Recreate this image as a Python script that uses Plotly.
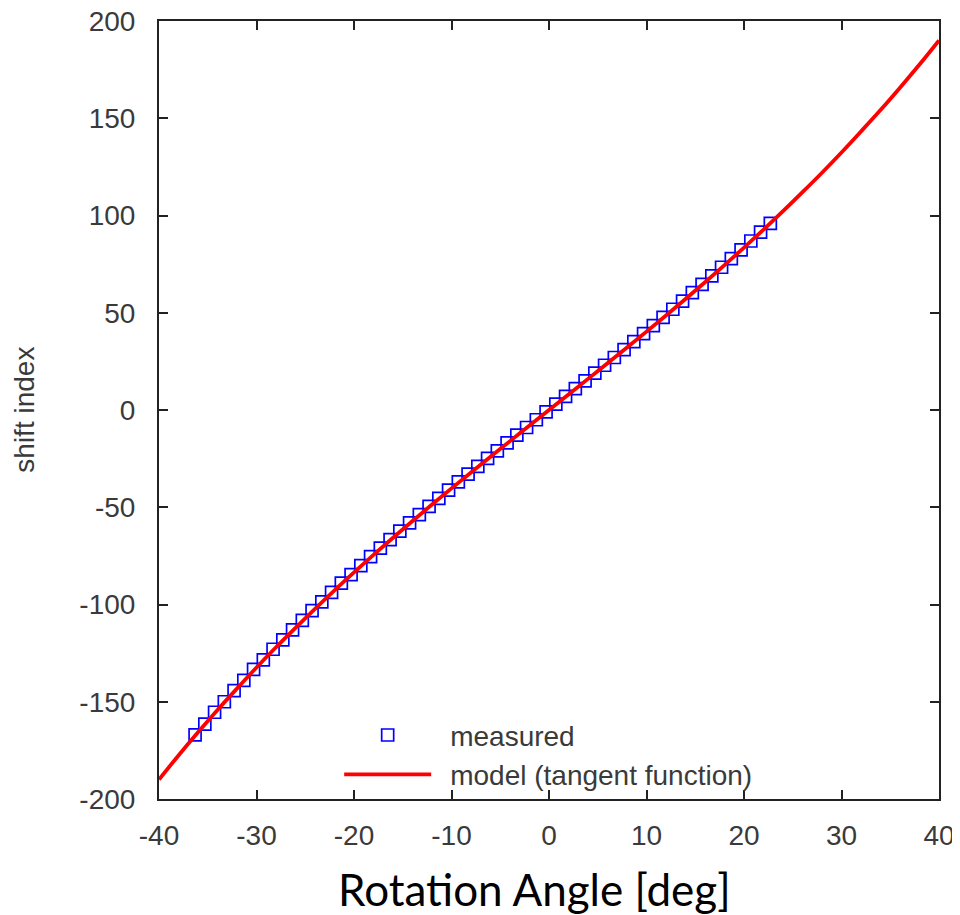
import plotly.graph_objects as go

meas_x = [-36.3, -35.3, -34.3, -33.3, -32.3, -31.3, -30.3, -29.3, -28.3, -27.3,
          -26.3, -25.3, -24.3, -23.3, -22.3, -21.3, -20.3, -19.3, -18.3, -17.3,
          -16.3, -15.3, -14.3, -13.3, -12.3, -11.3, -10.3, -9.3, -8.3, -7.3,
          -6.3, -5.3, -4.3, -3.3, -2.3, -1.3, -0.3, 0.7, 1.7, 2.7,
          3.7, 4.7, 5.7, 6.7, 7.7, 8.7, 9.7, 10.7, 11.7, 12.7,
          13.7, 14.7, 15.7, 16.7, 17.7, 18.7, 19.7, 20.7, 21.7, 22.7]
meas_y = [-167.0, -161.5, -155.4, -150.0, -144.3, -139.0, -133.4, -128.5, -123.0, -118.2,
          -113.0, -108.2, -103.2, -98.6, -93.8, -89.0, -84.6, -80.0, -75.4, -71.0,
          -66.6, -62.3, -58.0, -53.8, -49.5, -45.4, -41.2, -37.0, -33.0, -29.0,
          -24.9, -21.0, -16.9, -12.9, -9.0, -5.0, -1.0, 3.0, 7.0, 11.0,
          15.0, 19.0, 23.0, 27.0, 31.0, 35.2, 39.3, 43.4, 47.6, 51.8,
          56.0, 60.3, 64.6, 69.0, 73.4, 77.8, 82.3, 86.9, 91.5, 96.0]

# model (tangent function) curve
model_x = [-40, -38, -36, -34, -32, -30, -28, -26, -24, -22, -20, -18, -16, -14, -12, -10,
           -8, -6, -4, -2, 0, 2, 4, 6, 8, 10, 12, 14, 16, 18, 20, 22, 24, 26, 28, 30,
           32, 34, 36, 38, 40]
model_y = [-190.0, -177.6, -165.7, -154.2, -143.2, -132.4, -122.0, -112.0, -102.2, -92.7,
           -83.5, -74.5, -65.7, -57.1, -48.6, -40.3, -32.1, -24.0, -16.0, -8.0, 0.0,
           8.0, 16.0, 24.0, 32.1, 40.3, 48.6, 57.1, 65.7, 74.5, 83.5, 92.7, 102.2,
           112.0, 122.0, 132.4, 143.2, 154.2, 165.7, 177.6, 190.0]

x_ticks = [-40, -30, -20, -10, 0, 10, 20, 30, 40]
y_ticks = [-200, -150, -100, -50, 0, 50, 100, 150, 200]

series_names = ["measured", "model (tangent function)"]
x_title = "Rotation Angle [deg]"
y_title = "shift index"

SANS = "Liberation Sans, Arial, sans-serif"
GREY = "#3a3a3a"

fig = go.Figure()
fig.add_trace(go.Scatter(
    x=meas_x, y=meas_y, mode="markers", name="\u2002" + series_names[0],
    marker=dict(symbol="square-open", size=12, color="#0000FF",
                line=dict(width=1.7, color="#0000FF")),
))
fig.add_trace(go.Scatter(
    x=model_x, y=model_y, mode="lines", name="\u2002" + series_names[1],
    line=dict(color="#FF0000", width=3.8, shape="spline"),
))

tick_font = dict(family=SANS, size=28, color=GREY)

axis_common = dict(
    showgrid=False, zeroline=False, automargin=False,
    showline=True, linecolor="#222222", linewidth=2, mirror="allticks",
    ticks="inside", ticklen=9, tickwidth=2, tickcolor="#222222",
    tickfont=tick_font, ticklabeloverflow="allow",
)

# the page body adds an 8 px offset, so the figure is 8 px smaller than the window
fig.update_layout(
    width=952, height=907,
    margin=dict(l=151, r=21, t=13, b=116),
    paper_bgcolor="white", plot_bgcolor="white",
    showlegend=True,
    legend=dict(
        x=0.231, y=0.114, xanchor="left", yanchor="top",
        bgcolor="rgba(0,0,0,0)", borderwidth=0,
        font=dict(family=SANS, size=28, color=GREY),
        itemwidth=87, tracegroupgap=0,
    ),
    xaxis=dict(
        range=[-40, 40], tickmode="array", tickvals=x_ticks,
        ticktext=[str(v) for v in x_ticks],
        ticklabelstandoff=10,
        **axis_common,
    ),
    yaxis=dict(
        range=[-200, 200], tickmode="array", tickvals=y_ticks,
        ticktext=[str(v) for v in y_ticks],
        ticklabelstandoff=16,
        **axis_common,
    ),
    annotations=[
        dict(text=x_title, xref="paper", yref="paper", x=0.481, y=-0.1163,
             xanchor="center", yanchor="middle", showarrow=False,
             font=dict(family="Lato, Carlito, sans-serif", size=44, color="#000000")),
        dict(text=y_title, xref="paper", yref="paper", x=-0.1735, y=0.5,
             xanchor="center", yanchor="middle", showarrow=False, textangle=-90,
             borderpad=0,
             font=dict(family=SANS, size=28, color=GREY)),
    ],
)

fig.write_html("out.html")
